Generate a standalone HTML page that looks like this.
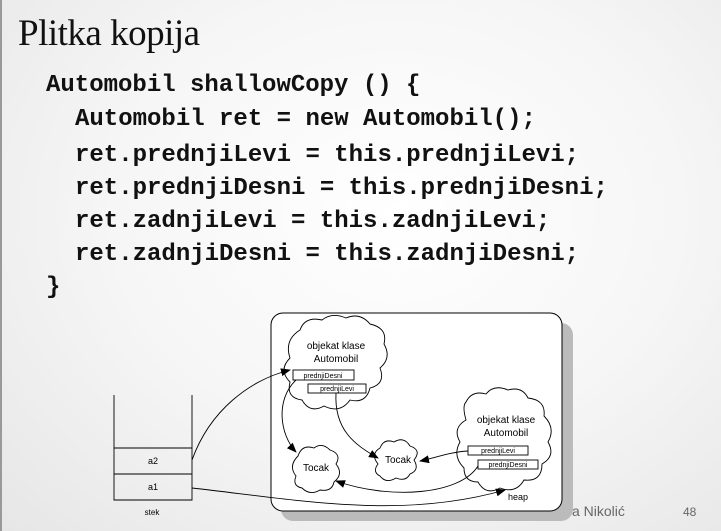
<!DOCTYPE html>
<html><head><meta charset="utf-8"><style>
html,body{margin:0;padding:0}
body{width:721px;height:531px;overflow:hidden;background:radial-gradient(ellipse at 55% 40%,#ffffff 0%,#f6f6f6 50%,#e6e6e6 100%);position:relative;font-family:"Liberation Sans",sans-serif}
.t{position:absolute;left:18px;top:12px;font-family:"Liberation Serif",serif;font-size:37px;color:#111;letter-spacing:-0.5px}
.c{position:absolute;font-family:"Liberation Mono",monospace;font-weight:bold;font-size:24px;color:#111;white-space:pre}
</style></head><body>
<div style="position:absolute;left:0;top:0;width:2px;height:531px;background:#999"></div>
<div class="t">Plitka kopija</div>
<div class="c" style="left:46px;top:72px">Automobil shallowCopy () {</div>
<div class="c" style="left:75px;top:106px">Automobil ret = new Automobil();</div>
<div class="c" style="left:75px;top:142px">ret.prednjiLevi = this.prednjiLevi;</div>
<div class="c" style="left:75px;top:175px">ret.prednjiDesni = this.prednjiDesni;</div>
<div class="c" style="left:75px;top:208px">ret.zadnjiLevi = this.zadnjiLevi;</div>
<div class="c" style="left:75px;top:241px">ret.zadnjiDesni = this.zadnjiDesni;</div>
<div class="c" style="left:46px;top:274px">}</div>
<svg width="721" height="531" style="position:absolute;left:0;top:0" font-family="Liberation Sans,sans-serif">
<defs><marker id="a" markerWidth="10" markerHeight="8" refX="9" refY="4" orient="auto" markerUnits="userSpaceOnUse"><path d="M0,0 L10,4 L0,8 z" fill="#000"/></marker></defs>
<rect x="281" y="323" width="292" height="198" rx="12" fill="#bbb"/>
<rect x="271" y="313" width="291" height="198" rx="12" fill="#fff" stroke="#000" stroke-width="1"/>
<text x="508" y="500" font-size="9">heap</text>
<g fill="#fff" stroke="#000" stroke-width="0.9">
<path d="M300,330 q5,-14 22,-10 q10,-8 24,-2 q14,-6 24,6 q18,4 14,20 q8,14 -4,24 q6,16 -10,20 q-4,16 -20,12 q-10,14 -26,6 q-14,8 -22,-6 q-16,-2 -12,-18 q-12,-12 0,-24 q-6,-18 10,-28 z"/>
<path d="M466,402 q6,-12 20,-8 q8,-10 22,-4 q14,-4 20,8 q18,2 16,18 q12,12 4,26 q8,14 -6,22 q0,18 -18,16 q-8,14 -24,8 q-14,8 -22,-6 q-14,0 -14,-14 q-12,-12 -4,-26 q-8,-14 6,-22 q-4,-14 0,-18 z"/>
<path d="M298,456 q4,-12 16,-8 q8,-6 16,2 q12,4 6,14 q8,10 -2,18 q-2,10 -14,8 q-10,6 -18,-2 q-10,-2 -6,-12 q-8,-10 2,-20 z"/>
<path d="M380,448 q4,-10 14,-6 q10,-6 16,4 q12,4 4,14 q6,10 -4,14 q-4,8 -14,4 q-10,6 -16,-2 q-8,-4 -2,-12 q-8,-10 2,-16 z"/>
</g>
<g font-size="10" text-anchor="middle" fill="#000">
<text x="336" y="349">objekat klase</text><text x="336" y="362">Automobil</text>
<text x="506" y="423">objekat klase</text><text x="506" y="436">Automobil</text>
<text x="316" y="471">Tocak</text><text x="398" y="463">Tocak</text>
</g>
<g fill="#fff" stroke="#000" stroke-width="0.9">
<rect x="293" y="370" width="61" height="10"/><rect x="308" y="384" width="58" height="9"/>
<rect x="468" y="446" width="60" height="9"/><rect x="478" y="460" width="60" height="9"/>
</g>
<g font-size="7" text-anchor="middle">
<text x="323" y="378">prednjiDesni</text><text x="337" y="391">prednjiLevi</text>
<text x="498" y="453">prednjiLevi</text><text x="508" y="467">prednjiDesni</text>
</g>
<g fill="none" stroke="#000" stroke-width="0.9">
<path d="M114,395 V500 H192 V395"/><path d="M114,448 H192 M114,474 H192"/>
<path d="M192,460 C210,410 250,380 290,370" marker-end="url(#a)"/>
<path d="M192,488 C300,500 400,520 505,490" marker-end="url(#a)"/>
<path d="M296,380 C275,400 280,435 296,452" marker-end="url(#a)"/>
<path d="M336,393 C334,430 355,445 378,458" marker-end="url(#a)"/>
<path d="M468,451 C450,452 435,458 420,461" marker-end="url(#a)"/>
<path d="M478,466 C460,495 390,500 336,481" marker-end="url(#a)"/>
</g>
<g font-size="9" text-anchor="middle"><text x="153" y="464">a2</text><text x="153" y="490">a1</text></g>
<text x="152" y="515" font-size="8" text-anchor="middle">stek</text>
<text x="572" y="516" font-size="14" fill="#666">a Nikolić</text>
<text x="683" y="516" font-size="12" fill="#666">48</text>
</svg>
</body></html>
